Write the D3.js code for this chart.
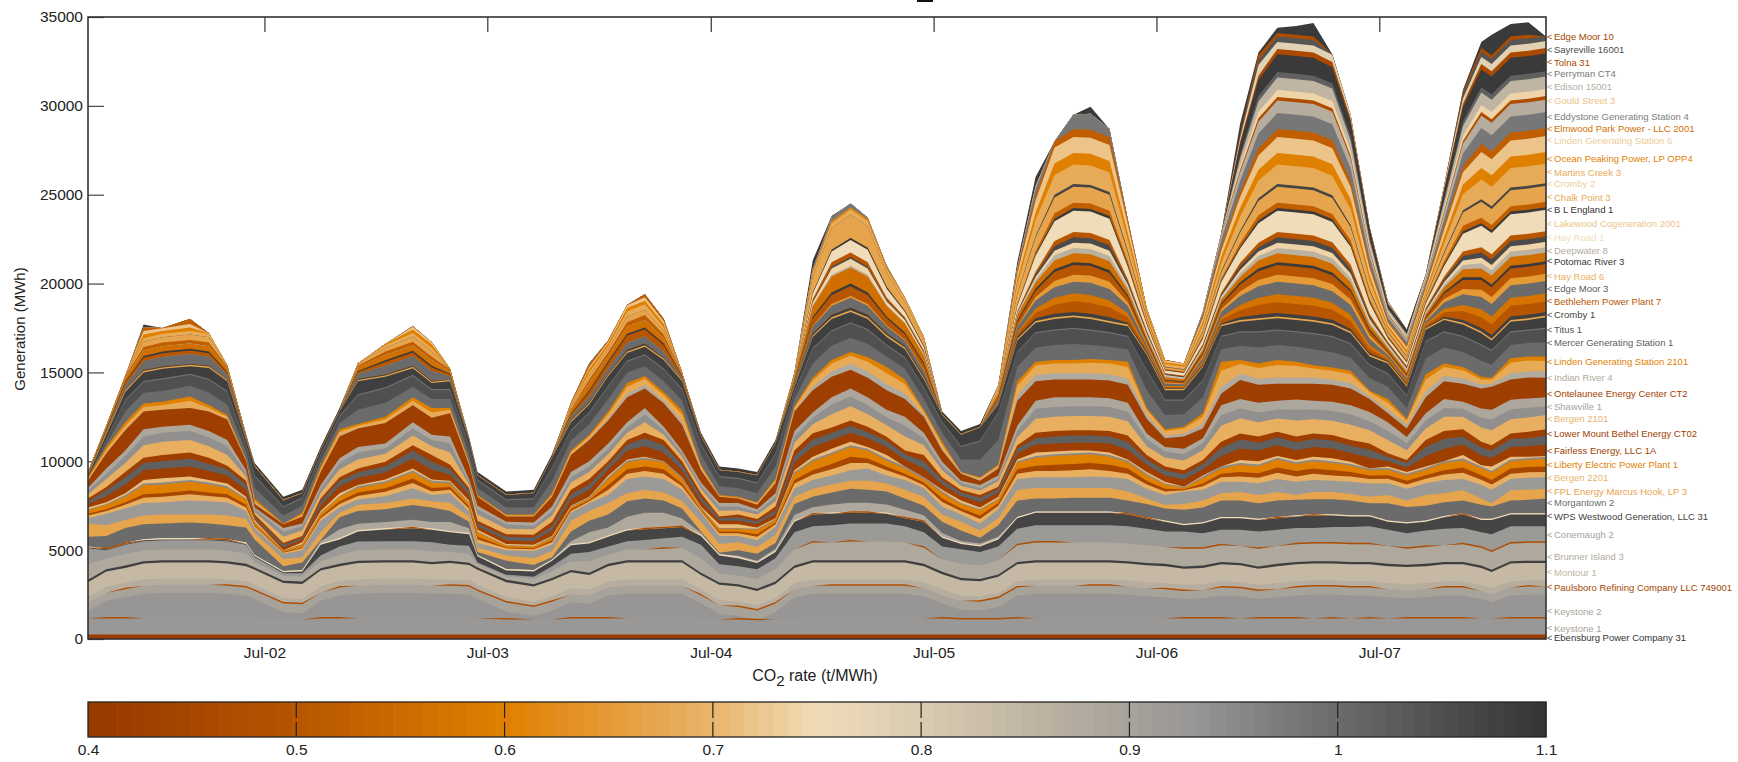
<!DOCTYPE html>
<html><head><meta charset="utf-8">
<script src="https://cdnjs.cloudflare.com/ajax/libs/d3/7.8.5/d3.min.js"></script>
<style>html,body{margin:0;background:#fff}svg{display:block}text{font-family:"Liberation Sans",Arial,sans-serif}</style>
</head><body><svg id="c" width="1738" height="762"></svg>
<script>
// all generation values are in hundreds of MWh
const dates=['2001-09-15','2001-10-15','2001-11-15','2001-12-15','2002-01-15','2002-03-01','2002-04-01','2002-05-01','2002-06-01','2002-06-15',
'2002-08-01','2002-09-01','2002-10-01','2002-11-01','2002-12-01','2003-01-15','2003-03-01','2003-04-01','2003-05-01','2003-06-01',
'2003-06-15','2003-08-01','2003-09-15','2003-10-15','2003-11-15','2003-12-15','2004-01-15','2004-02-15','2004-03-15','2004-04-15',
'2004-05-15','2004-06-15','2004-07-15','2004-08-15','2004-09-15','2004-10-15','2004-11-15','2004-12-15','2005-01-15','2005-02-15',
'2005-03-15','2005-04-15','2005-05-15','2005-06-15','2005-07-15','2005-08-15','2005-09-15','2005-10-15','2005-11-15','2005-12-15',
'2006-01-15','2006-02-15','2006-03-15','2006-04-15','2006-05-15','2006-06-15','2006-07-15','2006-08-15','2006-09-15','2006-10-15',
'2006-11-15','2006-12-15','2007-01-15','2007-02-15','2007-03-15','2007-04-15','2007-05-15','2007-06-15','2007-07-15','2007-08-15',
'2007-09-15','2007-10-15','2007-11-15','2007-12-15','2008-01-01','2008-02-01','2008-03-01','2008-03-30'];

// cumulative tops
const topTanBase=[20,26,28,30,30.5,30.5,30.5,30,29,27,
20,19.5,26,29,30,30.5,30.5,30,30,29.5,
27,20.5,18,21,25,24.5,29,30,30,30,
30,24.5,19,18,16,20,28,30,30,30,
30,30,30,28.5,24.5,21.5,21,23,29,30,
30,30,30,30,29.5,28.5,28,27,27.5,29,
28.5,27,28,29,29.5,29.5,29,29,28,27.5,
28,29,29,27,25,29,29.5,29.5];
const topMontour=[32,38,40,42.5,43,43,43,42.5,41,39,
31.5,31,38.5,41,42.8,43,43,42,42.8,41.6,
39,32,29.5,33,37.5,36,41,43,43,43,
43,36,30.5,29.5,27,31,40,43,43,43,
43,43,43,41,36.5,33,32.5,35,42,43,
43,43,43,43,42.5,41.5,41,39.5,40,42,
41.5,39.5,41,42,42.5,42.5,42,42,41,40.5,
41,42,42,40,37.7,42.5,42.8,42.8];
const topConemaugh=[51,50,53,55,55.5,55.5,55.5,55,53,46,
37,37,47,52,54.8,55,55,54.5,53,52.5,
43,36.2,35,41,48,49,52,55,55.7,56.7,
57.5,53,42,41,39.2,45.5,60,63.5,64,65,
65,65,63.5,60,52,50.5,49,52,62,64,
64,64,64,64,63.5,62,60.5,60.5,59.5,61.5,
61.5,60.5,61.5,62.5,62.5,63,63,63.5,61.5,59.5,
61,62,62.5,60,59,63.5,63.5,63.5];
const topWestwood=[51.5,50.5,53.5,55.5,56,56,56,55.5,53.5,46.5,
37.5,38,53,56,60.5,61.6,62.3,61.5,60,59,
46.5,38.6,38,44,52.7,53.7,57.5,61,61.7,62.3,
63,58,47,45.5,42.7,49,66,70,70.5,71,
71,70.5,68,66,57,53.5,52,56,68,71,
71,71,71,71,70,67.8,66,64,65,68,
68,67,68,69,69.5,69.5,69,69,66,65,
66,68.5,70,67,67,70,70,70];
const topMorgantown=[57.5,58,62.5,64.5,65,65.5,65,64,62.7,56,
41,43,55.5,68.5,72,73,75.4,74,72,66,
49,44,41.7,46,60.5,66.5,70,77.5,79,78,
73.5,60.5,48.5,50,48,54,76,80,82.5,84.5,
84,83,79,75,66,61,57,64,78,79,
79,79.5,79.5,79.5,78,76,73.5,72.7,74,78,
78,76.4,78,78.3,78.6,78.6,78,76.4,76.4,74.3,
75,77,78,75.5,74.5,78,78.3,79];
const topFPL=[65,64,67,69.5,70,70,70,69.5,67.7,59.5,
45,46,60,71,75.5,76.5,79,77.5,76.7,69,
51.5,47,45.5,49.5,66.5,72,76.5,82,84,82.5,
77.7,66,53.5,54.5,51.7,58.5,80,84.5,87,89,
89,87.5,84,80,70,66,61,68,84,85,
85,85,85,85,83,79,75.5,76,78,82,
82.7,81,82.7,81,82.7,82.7,81.6,80,81,78,
81,82,83.7,79,76.4,83.7,84,84.5];
const topGreyMid=[68,70.5,73.5,76.5,77,78,77.5,77,72,62.5,
48,50,66.5,74,78.5,80.3,84.8,81,82,72,
54,50,49.5,53,71,76.5,81,90,91.5,90,
84,71,58,58,55.5,63,84.5,89.5,92,95,
96,92,89.5,85,74.6,70,65,73,90,91,
91,91,91.5,91,90,84.5,81,83,84,88.5,
88.5,87.7,90,88.5,89.5,89,88.5,87.5,87.7,84.5,
87.7,89.5,90,86.6,84,90,90.8,91];
const topPaleMid=[74,77,82,89.5,90.5,91.5,89.5,87.5,80,67,
50,54.5,72,82,86.7,89.7,96,89.7,89,78,
61.5,53.5,53,58,75,80,92,101,102.5,100,
91,74.5,64.5,64.5,62.7,68,95,102.6,107,111,
108,103.5,97,91,84,78,74,80,101,105,
105.5,106,106,105,101,94,88.5,85.7,92,97,
100.7,100,103,100.7,102.5,101.7,99.7,96,97,94,
97,100,103.5,97.7,97,102.5,102.5,103];
const topLowerMountBethel=[79,85.5,94,102,103.5,105,102,97.5,89,70,
54,58,79,91,96,99.8,109,103.5,98,85,
66.5,59,58.7,66,84,90,100,112,116,112,
100,82,69,70,67.5,74.5,106,115.8,119,123,
119.5,113.8,106,103.5,91,83.8,81,85.7,109,116,
117,117.5,117.5,117,114.5,103.5,97,95,100.7,111,
115.7,114,116.6,114,115.7,114.8,112,110,104.5,100.7,
112,117,118,111,109,115.7,116.6,118];
const topGreyUpper=[85,96,106,118,119.5,120.5,117,112,95,74,
62.5,65,86.5,101.7,108,110,122,115,114,90,
75,66,65.5,74.5,94,100,110,122,130,119.5,
106,88,76.5,76.5,73,82,117,127.5,136,141,
136,129,125,116,99.8,89,86.6,92,120,134,
136,136,136,135.5,133,115.7,108,107,113,131.6,
135,133,134,134.8,134,133.5,131.6,127.7,122,113.7,
127,135,133.5,129.7,129,134.6,135.4,136];
const topOntelaunee=[89,104.5,117.5,128,129,130,128,123.5,100,76,
64.5,69,94,114,118.5,121.5,131.5,124.5,127,98,
80,69,69,80,103.6,112,123,136,141,132.7,
120.5,95,80,79,75.5,87.7,128,140,147.5,151.5,
147,140,135,125,106,93,89,96,134,145,
146,146,146,145.5,143,124,113,114,118.5,138,
145.7,143,143.7,143.7,143.7,143,141,135,127,118.5,
136,145,143.7,141,142,146,147.2,147];
const topLindenOrange=[91,108,122,132.5,133.5,136.5,131.7,126,101,79,
65,71,97,118,121,125,136,130,130,100,
81,70,70,82,106,115,128,144,148,139,
128.7,98,81,80,77,90,131,147,157,161.5,
158.7,153,146,129,111,94,91,98,145,156,
157,157,157.5,157,156,130,118,119.5,127,156,
157,155,157,156,154,152.8,150.9,139.8,135,124,
149,155,153,147.6,147,158,159,159];
const topDarkUpper=[92,115,139,150,152,153.5,152.5,145,112,97,
78,82,106,128,145,147.5,152.4,144,145,112,
92,81,82,102,122,132,148,161,164.5,157,
145,114,95,94,92,110,142,170,180,184,
180,170,163,146,126,115,119,132,168,178,
180,181,180,178,176,160,140,140,153,176,
178.5,179.5,180.5,179.5,178.5,176.7,172,159,155,142,
174,179.5,177,172,168,178.5,179.5,181];
const totalGeneration=[94,120,148,177,175,180,172,154,115,99,
80,84,108,130,155,166,176,167,152,114,
94,83,84,104,133,155,168,188,194,180,
150,116,97,96,94,112,150,213,238,245,
237,210,192,170,128,117,121,143,212,260,
280,295,299.5,287,236,186,157,155,184,228,
290,330,344,345,346.6,329,295,232,190,174,
205,255,309,336,340,346,347,339];

// individual unit outputs
const ebensburg=[2.5,2.5,2.5,2.5,2.5,2.5,2.5,2.5,2.5,2.5,2.5,2.5,2.5,2.5,2.5,2.5,2.5,2.5,2.5,2.5,2.5,2.5,2.5,2.5,2.5,2.5,2.5,2.5,2.5,2.5,2.5,2.5,2.5,2.5,2.5,2.5,2.5,2.5,2.5,2.5,2.5,2.5,2.5,2.5,2.5,2.5,2.5,2.5,2.5,2.5,2.5,2.5,2.5,2.5,2.5,2.5,2.5,2.5,2.5,2.5,2.5,2.5,2.5,2.5,2.5,2.5,2.5,2.5,2.5,2.5,2.5,2.5,2.5,2.5,2.5,2.5,2.5,2.5];
const keystone1=[9,9,9,9,9,9,9,9,9,9,8.5,8.5,9,9,9,9,9,9,9,9,9,8.5,8.5,8.5,9,9,9,9,9,9,9,9,8.5,8.5,8,8.5,9,9,9,9,9,9,9,9,9,8.5,8.5,8.5,9,9,9,9,9,9,9,9,9,9,9,9,9,9,9,9,9,9,9,9,9,9,9,9,9,9,9,9,9,9];
const keystone2=[4,10,12,14,14.5,14.5,14.5,14,13,11,
4,3.5,10,13,14,14.5,14.5,14,14,13.5,
11,4.5,2,5,9,8.5,13,14,14,14,
14,8.5,3,2,0,4,12,14,14,14,
14,14,14,12.5,8.5,5.5,5,7,13,14,
14,14,14,14,13.5,12.5,12,11,11.5,13,
12.5,11,12,13,13.5,13.5,13,13,12,11.5,
12,13,13,11,9,13,13.5,13.5];
const lowerTan=[3.5,3.5,3.5,3.5,3.5,3.5,3.5,3.5,3.5,3.5,3,3,3.5,3.5,3.5,3.5,3.5,3.5,3.5,3.5,3.5,3,3,3,3.5,3.5,3.5,3.5,3.5,3.5,3.5,3.5,3,3,3,3,3.5,3.5,3.5,3.5,3.5,3.5,3.5,3.5,3.5,3,3,3,3.5,3.5,3.5,3.5,3.5,3.5,3.5,3.5,3.5,3.5,3.5,3.5,3.5,3.5,3.5,3.5,3.5,3.5,3.5,3.5,3.5,3.5,3.5,3.5,3.5,3.5,3.5,3.5,3.5,3.5];
const blackUnit=[1.3,1.3,1.3,1.3,1.3,1.3,1.3,1.3,1.3,1.3,1.3,1.3,1.3,1.3,1.3,1.3,1.3,1.3,1.3,1.3,1.3,1.3,1.3,1.3,1.3,1.3,1.3,1.3,1.3,1.3,1.3,1.3,1.3,1.3,1.3,1.3,1.3,1.3,1.3,1.3,1.3,1.3,1.3,1.3,1.3,1.3,1.3,1.3,1.3,1.3,1.3,1.3,1.3,1.3,1.3,1.3,1.3,1.3,1.3,1.3,1.3,1.3,1.3,1.3,1.3,1.3,1.3,1.3,1.3,1.3,1.3,1.3,1.3,1.3,1.3,1.3,1.3,1.3];
const brunner=[9,6,6.5,6,6,6,6,6,6,3,
2.5,3,4,5,6,6,6,6,5,5,
2,2,3,4,5,6.5,5,6,6,6.5,
7,8,5,5,5.5,7,9,10,10,10.5,
10.5,10.5,10,9,7,8,7.5,8,9.5,10,
10,10,10,10,10,10,9.5,10,9.5,9.5,
9.5,10,10,10,10,10,10,10,10,9,
9.5,9.5,10,10,10,10,10,10];
const paleUnit=[.6,.6,.6,.6,.8,.8,.8,.8,.8,.8,.8,.8,.8,.8,.8,.8,.8,.8,.8,.8,.8,.8,.8,.8,.8,.8,.8,.8,.8,.8,.8,.8,.8,.8,.8,.8,.8,.7,.7,.7,.7,.7,.7,.7,.7,.7,.7,.7,.7,.7,.7,.7,.7,.7,.7,.7,.7,.7,.7,.7,.7,.7,.7,.7,.7,.7,.7,.7,.7,.7,.7,.7,.7,.7,.7,.7,.7,.7];
const lightMid=[0,0,0,0,0,0,0,0,0,0,
0,0,1,5,3.5,3.5,4,3.5,5,2.5,
0,0,0,0,1.5,5.5,4.5,7,8.5,8,
4,1,0,.5,.5,1,3,3.5,4.5,5,
5,4.5,4,3,2,1,1,1,0,0,
0,0,0,0,0,0,0,0,0,0,
0,0,0,0,0,0,0,0,0,0,
0,0,0,0,0,0,0,0];
const bergen2201=[1.5,1.5,2,3,3,3.5,3,2.5,2,1,
.5,1,1.5,2,2,2.5,3,2,2,1.5,
2,1,1,1.5,1,1,3,3,3,3,
2,1,1.5,1.5,2,1.5,3,3,3.5,4,
3,3,2,1.5,2.5,2,2.5,2,3,3.5,
3.5,4,4,3.5,3,2.5,2,.7,2,2.5,
3,3,3.5,3,3.5,3,3,2.5,2.5,2.5,
2.5,3,3.5,3,3,3,3,3];
const brownLower=[1,1,1.5,2,2,2,2,2,1.5,.5,
.5,.5,1,1.5,2,2,2.5,2,1.5,1,
1.5,.5,.5,1,1,.7,2.5,2.5,2.5,2.5,
1.5,.5,1,1,1.5,1,2,2.5,3,3.5,
2.5,2,1.5,1.5,2,1.5,2,1.5,2.5,3,
3.5,3.5,3.5,3.5,3,2,1.5,.5,1.5,2,
2.5,2.5,3,3,3,3,2.5,2,2,2,
2,2.5,3,2.5,2.5,3,3,3];
const liberty=[2,2.5,3,5,5,5,4.5,3.5,3,1.5,
.5,1.5,1.5,2.5,2.5,3,3.5,3,2,2,
2.5,1,1,1.5,1,1,3.5,4,4,4,
2.5,1,1.5,1.5,2.5,1.5,3.5,5,5.5,5.5,
4.5,3.5,3,2,3,2.5,3,2,3.5,4.5,
5,5,5,4.5,3.5,3,2.5,.8,3,3,
4,4,4.5,4,4,4,3.5,3,3,3,
3,4,4,4,4,4,4,4.5];
const greyThin=[.5,.5,1,1,1,1,1,1,.5,.5,.3,.5,.5,.5,1,1,1,1,1,.5,.5,.3,.3,.5,.5,.5,1,1,1,1,1,.5,.5,.5,.5,.5,1,1,1,1,1,1,1,1,1,.5,.5,.5,1,1,1,1,1,1,1,1,.5,.5,1,1,1,1,1,1,1,1,1,1,1,1,1,1,1,1,1,1,1,1];
const fairless=[2,3.5,5,5.5,5.5,5.5,5,4.5,4,1,
1.5,1.5,3,4,4,4,5.5,5.5,3.5,3,
2,2,2,3,3.5,4,3.5,5,6,5,
4,3,2,2,2,2.5,4.5,5.5,5,5,
5,4.5,4,5,3,2.5,3,2.5,3.5,4.5,
4.5,4.5,4.5,5,5.5,4,3.5,4,3.5,6,
6.5,6,6,5.5,5.5,5.5,5,6,3,2.5,
6,7,6,5.5,5,5.5,6,6.5];
const darkLower=[1.5,3,4,4,4,4.5,4,3.5,3,1,
1.5,1,2.5,3,3,3.5,4.5,4.5,3,2.5,
1.5,2,2,2.5,3,3,2.5,3.5,4.5,4,
3,2.5,1.5,2,1.5,2,3.5,4,4,4,
3.5,3.5,3,4,2.5,2,2.5,2,2.5,3.5,
4,4,4,4,4.5,3,3,3,3,4.5,
5,4.5,4.5,4.5,4.5,4.5,4,4.5,2.5,2.5,
5,5.5,4.5,4.5,4,4.5,4.5,5];
const bergen2101=[2.5,4.5,5,7,7.5,7,6.5,6,2.5,1.5,
3.5,3,3,4.5,5,4.5,5.5,5,7,2,
3.5,3,3,3.5,4,4,4,4,6,3,
2.5,2.5,3,2.5,2.5,3,4.5,5,7.5,8,
7,6.5,8,5.5,4,2.5,2.5,3,4.5,8,
8,8,8,8,8,5,5,5.5,5.5,9,
8.5,8,7.5,9,8,8,8.5,7.5,7.5,5.5,
6.5,8,7,8,8.5,8,8,8];
const shawville=[2,3,4,5,5,5,5,5,2,1.5,
3,2.5,2.5,3.5,4,3,4,3.5,5,1.5,
3,2.5,2,2.5,3,3,3,3,4.5,2.5,
2,2,2.5,2,1.5,2.5,3.5,3.5,5.5,5.5,
5,4.5,6,4,2.5,1.5,1.5,1.5,3.5,5.5,
5.5,5.5,5.5,5.5,5.5,4,3.5,3.5,4,6,
5.5,5.5,5,6,5.5,5.5,6,5,5,4,
4.5,5,4.5,5.5,6,5.5,5.5,5];
const indianRiver=[0,0,0,0,0,0,0,0,0,.5,
0,0,0,.5,0,0,0,0,0,0,
0,0,0,0,0,.5,1,2,2,1.5,
2,.5,0,0,0,0,.5,2,3,3.5,
3.5,3.5,3,1,1,.3,.5,.5,3,3.5,
3.5,3.5,3.5,3.5,3.5,2,1.5,1.5,2.5,4,
3.5,3.5,3.5,3.5,3.5,3,3,1.5,2,2,
3,3,3,2,1.5,3.5,3.5,3.5];
const lindenLight=[1,2,2.5,2.5,2.5,4,2,1.5,.5,1,
.2,1,1.5,2,1.5,2,2.5,3,2,1,
.5,.5,.5,1,1.5,1.5,2.5,4,3.5,3,
4,1.5,.5,.5,1,1.5,1.5,3.5,4.5,4.5,
5.5,6,5.5,2,2.5,.4,1,1,5.5,5.5,
5.5,5.5,6,6,6.5,3,2.5,3,4,9,
5.5,6,7,6.5,5,5,5,2.5,4,2.5,
7,5,4.5,3,2.5,6,6,6];
const mercer=[0,2,6,6,6,6,7,6,4,6,
4.5,4,3,3.5,8,8,6,5,5,4,
4,4,4,7,5.5,6,7,6,5.5,6,
5.5,5.5,5,5,5,7,4,8,8,8,
7.5,6,6,6,5,7,10,14,8,8,
8.5,9,8,7.5,7,10,8,7,9,7,
8,9,8.5,8.5,9,8.5,7.5,7,7,6,
9,9,8.5,9,7.5,7.5,7.5,8];
const titus=[0,2,6,6,6.5,6,7,7,4,6.5,
4.5,4,3,3.5,8,8,6,5,5,4.5,
4,4,4.5,7,5.5,6,7,6,6,6.5,
6,6,5,5,5.5,7,4,8,8,8,
7.5,6,6,6,5.5,7,10,15,8,8,
8,8.5,8,7.5,7,11,8,7.5,9,7,
7.5,8.5,8,8,8.5,8.5,7.5,7,7,6.5,
9,8.5,8.5,8.5,7.5,7,7,7.5];
const greyLine=[0,.5,.7,.7,.7,.7,.7,.7,.7,.7,.7,.7,.7,.7,.7,.7,.7,.7,.7,.7,.7,.7,.7,.7,.7,.7,.7,.7,.7,.7,.7,.7,.7,.7,.7,.7,.7,.7,.7,.7,.7,.7,.7,.7,.7,.7,.7,.7,.7,.7,.7,.7,.7,.7,.7,.7,.7,.7,.7,.7,.7,.7,.7,.7,.7,.7,.7,.7,.7,.7,.7,.7,.7,.7,.7,.7,.7,.7];
const orangeLine=[.5,.8,.8,.8,.8,.8,.8,.8,.5,.5,
.3,.3,.3,.3,.8,.8,.8,.8,.8,.3,
.3,.3,.3,.3,.8,.8,.8,.8,.8,.8,
.8,.3,.3,.3,.3,.3,.5,.8,1,1,
1,1,1,1,.3,.3,.3,.5,1,1,
1,1,1,1,1,.8,.8,.8,.8,.8,
1,1,1,1,1,1,1,1,.8,.8,
.8,.8,1,1,1,1,1,1];
const cromby1=[0,0,0,.5,.5,.5,.5,0,0,0,
0,0,0,0,.5,.5,.5,.5,0,0,
0,0,0,0,.5,.5,.5,1,1,.5,
0,0,0,0,0,0,0,1,1.5,1.5,
1.5,1,1,1,0,0,0,0,1,1.5,
2,2,2,2,1,.8,.5,.5,.5,.8,
1.5,2,2,2,2,2,1.5,1,.6,.5,
.5,1,1.5,2,2,2,2,2];
const bethlehem=[0,0,0,0,0,0,0,0,0,0,
0,0,0,0,0,0,0,0,0,0,
0,0,0,0,0,0,0,0,0,0,
0,0,0,0,0,0,0,0,0,0,
0,0,0,0,0,0,0,0,1.5,3,
5,6,6,5.5,3,1,.5,.5,1,2,
4,5.5,6,6,6,5.5,4.5,2.5,1,1,
1,2.5,5,6,6,6,6,6];
const orangeA=[0,0,0,0,0,0,0,0,0,0,
0,0,0,0,0,0,0,0,0,0,
0,0,0,0,0,0,0,0,0,0,
0,0,0,0,0,0,0,0,0,0,
0,0,0,0,0,0,0,0,1,2.5,
4,4.5,4.5,4,2.5,1,.5,.5,1,1.5,
3,4,4.5,4.5,4.5,4,3.5,2,1,.8,
1,2,3.5,4.5,4.5,4.5,4.5,4.5];
const edgeMoor3=[0,1,3,5,5.5,5.5,5,3,1,0,
0,0,0,0,3,5,5.5,5.5,2,0,
0,0,0,0,2,3,3,4,4,3.5,
1,0,0,0,0,0,2,4,5,5.5,
5,4,3,3,0,0,0,2,3,4.5,
6,6.5,7,6.5,4,2,1.5,1,2,3,
5,6.5,7,7,7,6.5,5.5,3.5,1.5,1.5,
1.5,3.5,6,7,7,7,7,7];
const hayRoad6=[0,0,0,0,0,0,0,0,0,0,
0,0,0,0,0,0,0,0,0,0,
0,0,0,0,0,0,0,0,0,0,
0,0,0,0,0,0,0,.5,1,1,
1,.5,.5,.5,0,0,0,0,.5,2,
3.5,4,4,4,2,.8,.5,.5,1,1.5,
2.5,3.5,4,4,4,4,3,2,.8,.8,
.8,2,3,4,4,4,4,4];
const brownB=[.5,1,1.5,2,2,2,2,1,.5,0,
0,0,0,0,1,2,2,2,1,0,
0,0,0,0,1,3,3,4,4,3.5,
1,0,0,0,0,0,1,4,5,5.5,
5,4,3,3,0,0,0,1.5,2.5,3.5,
5,5.5,5.5,5,3,1.5,1,.8,1.5,2.5,
4,5,5.5,5.5,5.5,5,4.5,2.5,1.2,1,
1.2,3,5,5.5,5.5,5.5,5.5,5.5];
const potomac=[0,.3,.5,1,1,1,1,.5,0,0,
0,0,0,0,.5,1,1,1,.5,0,
0,0,0,0,.5,.7,1,1,1,1,
.3,0,0,0,0,0,0,1,1.5,1.5,
1.5,1,1,1,0,0,0,.3,.8,1.2,
1.5,1.5,1.5,1.5,1,.6,.5,.5,.5,.8,
1.2,1.5,1.5,1.5,1.5,1.5,1.2,1,.5,.5,
.5,1,1.5,1.5,1.5,1.5,1.5,1.5];
const orangeC=[.5,1,2,3,3,3,3,2,.5,0,
0,0,0,0,2,3,3,3,1.5,0,
0,0,0,0,2,4,3,4,4,3,
.5,0,0,0,0,0,2,6,9,9,
9,6,5,4,0,0,0,2,3,3.5,
5,5,5,5,3,1.5,1.5,1,1.5,2,
3,4.5,5,5,5,5,4,2.5,1.5,1.5,
1.5,2.5,4.5,5,5,5,5,5];
const deepwater=[0,0,0,0,0,0,0,0,0,0,
0,0,0,0,0,0,0,0,0,0,
0,0,0,0,0,0,0,0,0,0,
0,0,0,0,0,0,0,.5,1,1,
1,.5,.5,.3,0,0,0,0,.5,1.5,
3,3,3,3,1.5,1,.8,.6,.8,1,
2,2.5,3,3,3,3,2.5,1.5,1,1,
1,1.5,2.5,3,3,3,3,3];
const hayRoad1=[0,0,0,0,0,0,0,0,0,0,
0,0,0,0,0,0,0,0,0,0,
0,0,0,0,0,0,0,0,0,0,
0,0,0,0,0,0,0,1.5,3.5,4,
3.5,2,1.5,1,0,0,0,0,.5,1.5,
2.5,3,3,3,1.5,1,.5,.5,.8,1,
2,2.5,3,3,3,3,2.5,1.5,.8,.6,
.8,1.5,2.5,3,3,3,3,3];
const darkD=[0,0,0,0,0,0,0,0,0,0,
0,0,0,0,0,0,0,0,0,0,
0,0,0,0,0,0,0,0,0,0,
0,0,0,0,0,0,0,.5,1,1,
1,.7,.5,.5,0,0,0,0,.5,1.5,
2.5,3,3,3,1.5,1,.5,.5,.8,1,
2,2.5,3,3,3,3,2.5,1.5,.8,.8,
.8,1.5,2.5,3,3,3,3,3];
const brownD=[0,0,0,0,0,0,0,0,0,0,
0,0,0,0,0,0,0,0,0,0,
0,0,0,0,0,0,0,0,0,0,
0,0,0,0,0,0,0,1.5,2.5,2.5,
2.5,1.5,1,1,0,0,0,0,.5,1.5,
3,3,3,3,1.5,.8,.5,.5,.8,1,
2,2.5,3,3,3,3,2.5,1.5,.8,.8,
.8,1.5,2.5,3,3,3,3,3];
const lakewood=[0,0,0,0,0,0,0,0,0,0,
0,0,0,0,0,0,0,0,0,0,
0,0,0,0,0,0,0,0,0,0,
0,0,0,0,0,0,0,3,6,7,
7,5,3,2,0,0,0,0,3,9,
11,12,12,12,7,3,1.5,1.5,3,6,
8,11,12,12,12,11.5,10,6,2,2,
2.5,6,10,12,12,12,12,12];
const blEngland=[0,0,0,0,0,0,0,0,0,0,
0,0,0,0,0,0,0,0,0,0,
0,0,0,0,0,0,0,0,0,0,
0,0,0,0,0,0,0,.5,1,1.2,
1.2,1,.7,.7,0,0,0,0,.3,.8,
1.5,1.5,1.5,1.5,1,.5,.3,.3,.5,.8,
1,1.5,1.5,1.5,1.5,1.5,1.2,1,.5,.5,
.5,1,1.5,1.5,1.5,1.5,1.5,1.5];
const brownE=[0,.5,1,2,2,2,2,1,0,0,
0,0,0,0,1,2,2,2,1,0,
0,0,0,0,.5,2,2,2.5,3,2,
.5,0,0,0,0,0,0,0,0,0,
0,0,0,0,0,0,0,0,.5,1.5,
3,3,3,3,2,.8,.5,.5,1,1,
2,3,3,3,3,3,2.5,1.5,.8,.6,
.8,1.5,3,3,3,3,3,3];
const chalkPoint=[.5,1,1,3,3,3,3,1,0,0,
0,0,0,0,1,2,3,3,1,0,
0,0,0,0,1,2,2,3,3,2,
.5,0,0,0,0,0,2,9,12,13,
12,8,5,4,0,0,0,2,6,8,
9,9,9,9,5,2.5,1,1,2.5,3.5,
6,8,9,9,9,9,7.5,4.5,2,2,
2,4.5,7.5,9,9,9,9,9];
const cromby2=[0,0,0,0,0,0,0,0,0,0,
0,0,0,0,0,0,0,0,0,0,
0,0,0,0,0,0,0,0,0,0,
0,0,0,0,0,0,0,0,0,0,
0,0,0,0,0,0,0,0,.3,.8,
1.5,1.5,1.5,1.5,1,.5,.3,.3,.5,.8,
1,1.5,1.5,1.5,1.5,1.5,1,.8,.4,.4,
.4,.8,1.2,1.5,1.5,1.5,1.5,1.5];
const martinsCreek=[0,.5,.5,2,2,2,2,1,0,0,
0,0,0,0,.5,1.5,2,2,.5,0,
0,0,0,0,1,2,1.5,3,3,2,
0,0,0,0,0,0,0,2,3,3,
3,2,2,1,0,0,0,2,5,9,
11,11,11,11,6,2.5,1.5,1.5,3,4.5,
8,10,11,11,11,11,9,5,2,2,
2,5,9,11,11,11,11,11];
const oceanPeaking=[0,.2,.5,2,1.5,2,1.5,.5,0,0,
0,0,0,0,.5,1,2,2,.5,0,
0,0,0,0,.5,2,1.5,2,2,2,
0,0,0,0,0,0,0,1,1,1,
1,1,.5,.5,0,0,0,0,3,4,
6.5,6.5,6.5,6.5,4,2,1,1,2,3.5,
5,6,6.5,6.5,6.5,6.5,5.5,3,1.5,1.5,
1.5,3.5,5.5,6.5,6.5,6.5,6.5,6.5];
const linden6=[0,.2,.5,2,1.5,2,1.5,.5,0,0,
0,0,0,0,.5,1,1.5,1.5,.5,0,
0,0,0,0,.5,1,1,1.5,2,1.5,
0,0,0,0,0,0,0,0,0,0,
0,0,0,0,0,0,0,0,3,7,
9,9,9,9,5,1.5,1,1,2,3.5,
6,8,9,9,9,9,7,4,1.5,1.5,
1.5,4,7,9,9,9,9,9];
const elmwood=[0,.2,.5,2,2,3,1.5,.5,0,0,
0,0,0,0,.5,1,1.5,1.5,.5,0,
0,0,0,0,.5,1.5,1,2,2,1.5,
.5,0,0,0,0,0,0,0,0,0,
0,0,0,0,0,0,0,0,2,2.5,
4.5,4.5,4.5,4.5,2.5,1,.5,.5,1,2,
3,4,4.5,4.5,4.5,4.5,3.5,2,1,1,
1,2,3.5,4.5,4.5,4.5,4.5,4.5];
const eddystone=[1,1,0,0,0,0,0,0,0,0,
0,0,0,0,0,0,0,0,0,0,
0,0,0,0,1,1,0,0,0,0,
0,0,0,0,0,0,0,1.5,2,3,
3,2,1.5,1.5,0,0,0,0,1,4,
6,9,9,9,5,2,1,1,2,4,
6,8.5,9,9,9,9,7,4,2,2,
2,4,7,9,9,9,9,9];
const greige=[0,0,0,0,0,0,0,0,0,0,
0,0,0,0,0,0,0,0,0,0,
0,0,0,0,0,0,0,0,0,0,
0,0,0,0,0,0,0,0,0,0,
0,0,0,0,0,0,0,0,.5,1.5,
0,0,0,0,3,1.5,1,1,2,3,
5,6.5,7,7,7,7,5.5,3.5,1.5,1.5,
1.5,3.5,5.5,7,7,7,7,7];
const brownF=[0,0,0,0,0,0,0,0,0,0,
0,0,0,0,0,0,0,0,0,0,
0,0,0,0,0,0,0,0,0,0,
0,0,0,0,0,0,0,0,0,0,
0,0,0,0,0,0,0,0,0,0,
0,0,0,0,.8,.5,.3,.3,.5,.8,
1.2,2,2,2,2,2,1.5,1,.5,.5,
.5,1,1.5,2,2,2,2,2];
const gouldStreet=[0,0,0,0,0,0,0,0,0,0,
0,0,0,0,0,0,0,0,0,0,
0,0,0,0,0,0,0,0,0,0,
0,0,0,0,0,0,0,0,0,0,
0,0,0,0,0,0,0,0,0,0,
0,0,0,0,1.5,.8,.5,.5,.8,1.5,
2.5,3.5,4,4,4,4,3,2,1,.8,
1,2,3,4,4,4,4,4];
const edison=[0,0,0,0,0,0,0,0,0,0,
0,0,0,0,0,0,0,0,0,0,
0,0,0,0,0,0,0,0,0,0,
0,0,0,0,0,0,0,0,0,0,
0,0,0,0,0,0,0,0,0,0,
0,0,0,0,2,1,.7,.7,1,2,
4,6,7,7,7,7,5.5,3,1.5,1.5,
1.5,3,5.5,7,7,7,7,7];
const perryman=[0,0,0,0,0,0,0,0,0,0,
0,0,0,0,0,0,0,0,0,0,
0,0,0,0,0,0,0,0,0,0,
0,0,0,0,0,0,0,0,0,0,
0,0,0,0,0,0,0,0,0,0,
0,0,0,0,1,.5,.3,.3,.5,1,
2,3,3,3,3,3,2.5,1.5,.8,.8,
.8,1.5,2.5,3,3,3,3,3];
const darkG=[0,0,0,0,0,0,0,0,0,0,
0,0,0,0,0,0,0,0,0,0,
0,0,0,0,0,0,0,0,0,0,
0,0,0,0,0,0,0,0,0,0,
0,0,0,0,0,0,0,0,0,0,
0,0,0,0,3,1.5,1,1,1.5,3,
6,9,10,10,10,9,8,5,2,2,
2,5,8,10,10,10,10,10];
const tolna=[0,0,0,0,0,0,0,0,0,0,
0,0,0,0,0,0,0,0,0,0,
0,0,0,0,0,0,0,0,0,0,
0,0,0,0,0,0,0,0,0,0,
0,0,0,0,0,0,0,0,0,0,
0,0,0,0,.5,.3,.2,.2,.3,.5,
1.5,2.5,3,3,3,3,2,1.2,.5,.5,
.5,1.2,2,3,3,3,3,3];
const paleTop=[0,0,0,0,0,0,0,0,0,0,
0,0,0,0,0,0,0,0,0,0,
0,0,0,0,0,0,0,0,0,0,
0,0,0,0,0,0,0,0,0,0,
0,0,0,0,0,0,0,0,0,0,
0,0,0,0,.8,.5,.3,.3,.5,1,
2,6,4,4,4,4,3,2,.8,.8,
.8,2,3,4,4,4,4,4];
const sayreville=[0,0,0,0,0,0,0,0,0,0,
0,0,0,0,0,0,0,0,0,0,
0,0,0,0,0,0,0,0,0,0,
0,0,0,0,0,0,0,0,0,0,
0,0,0,0,0,0,0,0,0,0,
0,0,0,0,.5,.3,.2,.2,.3,.5,
1.5,2.5,3,3,3,3,2,1.2,.5,.5,
.5,1.2,2.5,3,3,3,3,3];
const edgeMoor10=[0,0,0,0,0,0,0,0,0,0,
0,0,0,0,0,0,0,0,0,0,
0,0,0,0,0,0,0,0,0,0,
0,0,0,0,0,0,0,0,0,0,
0,0,0,0,0,0,0,0,0,0,
0,0,0,0,.3,.2,.2,.2,.2,.3,
1,3,2,2,2,2,1.5,1,.4,.4,
.4,1,1.5,2,2,2,2,2];

// thin intermittent unit (Paulsboro-like lines)
const thinLineLow=[0,1,1,0,0,0,0,0,0,0,
0,0,1,1,0,0,0,0,0,0,
0,1,0,0,1,1,1,0,0,0,
0,0,0,1,1,0,0,0,0,0,
0,0,0,0,1,1,1,1,1,0,
0,0,0,0,0,0,0,1,1,1,
0,1,1,1,0,1,0,1,0,1,
1,1,1,0,0,1,1,1];
const thinLineMid=[0,0,1,0,0,0,0,1,1,1,
1,1,0,1,0,0,0,0,1,1,
1,1,1,1,0,0,0,0,0,0,
0,1,0,1,1,1,0,0,1,1,
1,1,1,0,0,0,1,1,1,0,
0,0,1,1,0,0,1,1,0,1,
1,1,0,1,1,1,1,1,0,0,
0,1,1,0,0,0,1,0];
const thinLineUpper=[0,0,0,0,0,0,0,0,0,0,
0,0,0,0,0,0,0,0,0,0,
0,0,0,0,0,0,0,0,0,1,
0,0,0,0,0,0,0,1,0,1,
0,0,0,1,0,0,0,0,1,1,
1,0,0,0,0,0,0,1,1,1,
0,1,0,1,1,1,1,1,0,1,
1,0,1,1,1,1,1,1];
const thinLineWestwood=[0,1,1,0,0,0,1,1,0,0,
0,0,0,0,0,0,1,0,0,0,
0,0,0,0,0,0,0,0,1,1,
1,0,0,0,0,0,0,1,0,1,
1,0,1,1,0,0,0,0,0,0,
0,0,0,0,1,1,0,0,0,0,
0,0,1,0,1,0,0,0,0,0,
0,0,1,0,0,0,0,0];

// right-hand labels: name, CO2 rate, generation level (hundreds of MWh) the label sits at
const labelNames=['Edge Moor 10','Sayreville 16001','Tolna 31','Perryman CT4','Edison 15001','Gould Street 3','Eddystone Generating Station 4','Elmwood Park Power - LLC 2001','Linden Generating Station 6','Ocean Peaking Power, LP OPP4','Martins Creek 3','Cromby 2','Chalk Point 3','B L England 1','Lakewood Cogeneration 2001','Hay Road 1','Deepwater 8','Potomac River 3','Hay Road 6','Edge Moor 3','Bethlehem Power Plant 7','Cromby 1','Titus 1','Mercer Generating Station 1','Linden Generating Station 2101','Indian River 4','Ontelaunee Energy Center CT2','Shawville 1','Bergen 2101','Lower Mount Bethel Energy CT02','Fairless Energy, LLC 1A','Liberty Electric Power Plant 1','Bergen 2201','FPL Energy Marcus Hook, LP 3','Morgantown 2','WPS Westwood Generation, LLC 31','Conemaugh 2','Brunner Island 3','Montour 1','Paulsboro Refining Company LLC 749001','Keystone 2','Keystone 1','Ebensburg Power Company 31'];
const labelRates=[.44,1.06,.45,.98,.87,.72,.97,.56,.73,.6,.68,.73,.68,1.1,.72,.75,.88,1.1,.69,1.03,.5,1.08,1.05,1.03,.6,.88,.43,.9,.7,.42,.42,.6,.7,.67,1,1.08,.9,.88,.85,.44,.9,.9,1.1];
const labelLevels=[339,331.5,324.5,318,310.5,303,294,287,280.5,270,262.5,256,248.5,241.5,233.5,226,218.5,212.5,204,197,190,182.5,174,166.5,156,147,138,130.5,124,115.5,106,98,90.5,83,76.5,69,58.5,46,37.5,29,15.5,6,0.5];

const axisValues=[0,50,100,150,200,250,300,350];
const julyTicks=['2002-07-01','2003-07-01','2004-07-01','2005-07-01','2006-07-01','2007-07-01'];
const colourbarTicks=[.4,.5,.6,.7,.8,.9,1,1.1];

// ---------------- drawing ----------------
const W=88,E=1546,TOP=17,BOT=639;
const parse=d3.utcParse('%Y-%m-%d');
const x=d3.scaleUtc().domain([parse('2001-09-15'),parse('2008-03-30')]).range([W,E]);
const y=d3.scaleLinear().domain([0,350]).range([BOT,TOP]);
const rateColour=d3.scaleLinear()
 .domain([.4,.5,.6,.7,.75,.8,.85,.9,.93,1,1.1])
 .range(['#973800','#b85500','#e08000','#e9b46c','#f0dcb8','#d9cbb2','#c0b5a3','#a7a29a','#979695','#6b6b6b','#343434'])
 .interpolate(d3.interpolateRgb);
const t=dates.map(parse), n=dates.length;

const stackLayers=[
 ['Ebensburg',.41,ebensburg],['Keystone 1',.925,keystone1],['Keystone 2',.93,keystone2],['Grey low',.9,topTanBase,1],
 ['Lower tan',.87,lowerTan],['Montour',.84,topMontour,1],['Black unit',1.08,blackUnit],
 ['Brunner',.885,brunner],['Conemaugh',.92,topConemaugh,1],['Westwood',1.07,topWestwood,1],
 ['Pale unit',.75,paleUnit],['Light grey mid',.885,lightMid],['Morgantown',1,topMorgantown,1],['FPL',.67,topFPL,1],['Grey mid',.92,topGreyMid,1],
 ['Bergen 2201',.69,bergen2201],['Brown lower',.45,brownLower],['Liberty',.6,liberty],['Grey thin',.95,greyThin],['Pale mid',.71,topPaleMid,1],
 ['Fairless',.42,fairless],['Dark lower',1.02,darkLower],['LMB',.42,topLowerMountBethel,1],
 ['Bergen 2101',.69,bergen2101],['Shawville',.94,shawville],['Grey upper',.89,topGreyUpper,1],['Ontelaunee',.42,topOntelaunee,1],
 ['Indian River',.88,indianRiver],['Linden light',.68,lindenLight],['Linden orange',.6,topLindenOrange,1],
 ['Mercer',1,mercer],['Titus',1.05,titus],['Grey line',.99,greyLine],['Dark upper',1.08,topDarkUpper,1],
 ['Orange line',.67,orangeLine],['Cromby 1',1.08,cromby1],['Bethlehem',.5,bethlehem],['Orange A',.57,orangeA],['Edge Moor 3',1,edgeMoor3],
 ['Hay Road 6',.65,hayRoad6],['Brown B',.5,brownB],['Potomac',1.09,potomac],['Orange C',.56,orangeC],['Deepwater',.86,deepwater],
 ['Hay Road 1',.74,hayRoad1],['Dark D',1.06,darkD],['Brown D',.5,brownD],['Lakewood',.75,lakewood],['BL England',1.09,blEngland],
 ['Brown E',.52,brownE],['Chalk',.67,chalkPoint],['Cromby 2',1.07,cromby2],['Martins',.68,martinsCreek],['Ocean',.6,oceanPeaking],
 ['Linden 6',.72,linden6],['Elmwood',.52,elmwood],['Eddystone',.98,eddystone],['Greige',.87,greige],['Brown F',.47,brownF],
 ['Gould',.74,gouldStreet],['Edison',.85,edison],['Perryman',1.02,perryman],['Dark G',1.09,darkG],['Tolna',.46,tolna],
 ['Pale top',.78,paleTop],['Sayreville',1.04,sayreville],['Edge Moor 10',.47,edgeMoor10],['Top dark',1.09,totalGeneration,1]
];
const layers=[];let cur=t.map(()=>0);
stackLayers.forEach((L,i)=>{
 const [name,rate,v,isTop]=L;
 if(v.length!==n) console.error('length',name,v.length);
 const next=stackLayers.slice(i).find(l=>l[3]);
 const tops=cur.map((c,j)=>{const val=v[j]===undefined?0:v[j];
   return isTop?Math.max(c,val):Math.max(c,Math.min(c+val,next[2][j]));});
 layers.push({name,rate,tops});cur=tops;
});
const svg=d3.select('#c');
const ink='#222';

// ticks sit behind the areas
svg.append('g').attr('transform',`translate(${W},0)`)
 .call(d3.axisLeft(y).tickValues(axisValues).tickFormat(d=>d*100).tickSizeInner(-16).tickSizeOuter(0).tickPadding(5))
 .call(g=>{g.select('.domain').remove();g.selectAll('line').attr('stroke','#444').attr('stroke-width',1.2);
   g.selectAll('text').attr('font-size',15.5).attr('fill',ink);});
svg.append('g').attr('transform',`translate(0,${TOP})`)
 .call(d3.axisTop(x).tickValues(julyTicks.map(parse)).tickFormat('').tickSizeInner(-15).tickSizeOuter(0))
 .call(g=>{g.select('.domain').remove();g.selectAll('line').attr('stroke','#333').attr('stroke-width',1.2);});

// painter's order, top layer first: no seams between bands
const area=d3.area().x((d,i)=>x(t[i])).y0(y(0)).y1(d=>y(d));
svg.append('g').selectAll('path').data(layers.slice().reverse()).join('path')
 .attr('d',d=>area(d.tops)).attr('fill',d=>rateColour(d.rate));

// thin intermittent lines resting on a band boundary
const topOf=name=>layers.find(l=>l.name===name).tops;
const thin=[[thinLineLow,'Keystone 1'],[thinLineMid,'Grey low'],[thinLineUpper,'Brunner'],[thinLineWestwood,'Westwood']];
const thinArea=d3.area().x(d=>x(d.t)).y0(d=>y(d.b)).y1(d=>y(d.b+d.v*.85)).defined(d=>d.keep);
svg.append('g').selectAll('path').data(thin).join('path')
 .attr('fill',rateColour(.47))
 .attr('d',([v,on])=>{const b=topOf(on);
   return thinArea(t.map((d,i)=>({t:d,b:b[i],v:v[i],keep:v[i]||v[i-1]||v[i+1]})));});

// frame
svg.append('rect').attr('x',W).attr('y',TOP).attr('width',E-W).attr('height',BOT-TOP)
 .attr('fill','none').attr('stroke','#333').attr('stroke-width',1.6);

// bottom axis labels
svg.append('g').attr('transform',`translate(0,${BOT})`)
 .call(d3.axisBottom(x).tickValues(julyTicks.map(parse)).tickFormat(d3.utcFormat('%b-%y')).tickSize(0).tickPadding(8))
 .call(g=>{g.select('.domain').remove();g.selectAll('text').attr('font-size',15.5).attr('fill',ink);});

// axis titles
svg.append('text').attr('transform','translate(25,329) rotate(-90)').attr('text-anchor','middle')
 .attr('font-size',15).attr('fill',ink).text('Generation (MWh)');
const xt=svg.append('text').attr('x',815).attr('y',681).attr('text-anchor','middle').attr('font-size',16).attr('fill',ink);
xt.append('tspan').text('CO');
xt.append('tspan').attr('dy',5).attr('font-size',15).text('2');
xt.append('tspan').attr('dy',-5).text(' rate (t/MWh)');

// sliver of the cropped title
svg.append('rect').attr('x',917).attr('y',0).attr('width',16).attr('height',2).attr('fill','#111');

// right labels
const lab=svg.append('g').selectAll('g').data(labelNames).join('g')
 .attr('transform',(d,i)=>`translate(${E+1},${y(labelLevels[i])})`).attr('fill',(d,i)=>rateColour(labelRates[i]));
lab.append('text').attr('dy','0.33em').attr('font-size',9).text('<');
lab.append('text').attr('x',7).attr('dy','0.34em').attr('font-size',9.5).text(d=>d);

// colourbar
const cb=d3.scaleLinear().domain([.4,1.1]).range([W,E]);
const steps=d3.range(100);
const cbTop=702,cbBot=737;
svg.append('g').selectAll('rect').data(steps).join('rect')
 .attr('x',i=>cb(.4+i*.007)).attr('y',cbTop).attr('width',(E-W)/100+.6).attr('height',cbBot-cbTop)
 .attr('fill',i=>rateColour(.4+(i+.5)*.007));
svg.append('rect').attr('x',W).attr('y',cbTop).attr('width',E-W).attr('height',cbBot-cbTop)
 .attr('fill','none').attr('stroke','#222').attr('stroke-width',1.3);
const inner=colourbarTicks.slice(1,-1);
svg.append('g').selectAll('path').data(inner).join('path')
 .attr('d',d=>`M${cb(d)},${cbTop}V${cbTop+16}M${cb(d)},${cbBot-15}V${cbBot}`).attr('stroke','#222').attr('stroke-width',1.2);
svg.append('g').attr('transform',`translate(0,${cbBot})`)
 .call(d3.axisBottom(cb).tickValues(colourbarTicks).tickFormat(d=>d===1?'1':d.toFixed(1)).tickSize(0).tickPadding(7))
 .call(g=>{g.select('.domain').remove();g.selectAll('text').attr('font-size',15.5).attr('fill',ink);});
</script></body></html>
